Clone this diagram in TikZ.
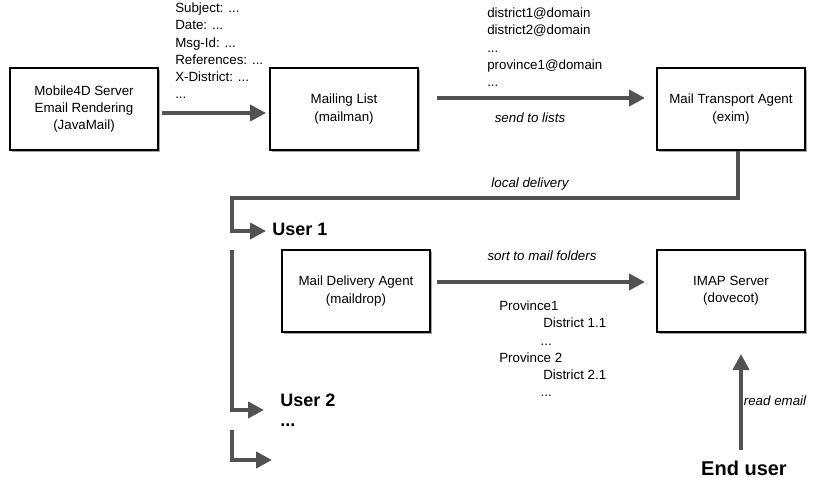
\documentclass[tikz,border=0pt]{standalone}
\usepackage{fontspec}
\setmainfont{Liberation Sans}
\usetikzlibrary{arrows.meta}
\begin{document}
\begin{tikzpicture}[x=0.75pt,y=-0.75pt,
  box/.style={draw=black,line width=0.8pt,fill=white,align=center,font=\fontsize{10}{13}\selectfont,minimum width=111pt,minimum height=61.5pt,inner sep=0pt},
  shadowbox/.style={box,preaction={fill=black!35,transform canvas={xshift=1.5pt,yshift=-1.5pt}}},
  flow/.style={draw=black!68,line width=3pt,-{Triangle[length=12pt,width=12pt]}},
  lab/.style={font=\fontsize{10}{12.8}\selectfont,align=left,anchor=west,inner sep=0pt},
  it/.style={font=\itshape\fontsize{10}{13}\selectfont,inner sep=0pt},
  big/.style={font=\bfseries\fontsize{13.5}{15}\selectfont,anchor=west,inner sep=0pt}]
\useasboundingbox (0,0) rectangle (822,478);
\node[shadowbox] (m4d) at (84,109) {Mobile4D Server\\Email Rendering\\(JavaMail)};
\node[shadowbox] (ml) at (344,109) {Mailing List\\(mailman)};
\node[shadowbox] (mta) at (731,109) {Mail Transport Agent\\(exim)};
\node[shadowbox] (mda) at (356,291) {Mail Delivery Agent\\(maildrop)};
\node[shadowbox] (imap) at (731,291) {IMAP Server\\(dovecot)};
\node[lab,anchor=north west] (hdr) at (175,3) {Subject: ...\\Date: ...\\Msg-Id: ...\\References: ...\\X-District: ...\\...};
\node[lab,anchor=north west] (dist) at (487,8) {district1@domain\\district2@domain\\...\\province1@domain\\...};
\node[lab,anchor=north west] (prov) at (499,301) {Province1\\\hspace*{33pt}District 1.1\\\hspace*{31pt}...\\Province 2\\\hspace*{33pt}District 2.1\\\hspace*{31pt}...};
\node[it] (l1) at (530,118) {send to lists};
\node[it] (l2) at (530,184) {local delivery};
\node[it] (l3) at (542,256) {sort to mail folders};
\node[it] (l4) at (775,401) {read email};
\node[big] (u1) at (272,229) {User 1};
\node[big] (u2) at (280,400) {User 2};
\node[big] (dots) at (280,425) {...};
\node[font=\bfseries\fontsize{15}{17}\selectfont,inner sep=0pt] (eu) at (744,468) {End user};
\coordinate (c1) at (738,198); \coordinate (c2) at (232,198); \coordinate (c3) at (232,231);
\coordinate (t1) at (266,231);
\coordinate (d1) at (232,250); \coordinate (d2) at (232,410); \coordinate (t2) at (264,410);
\coordinate (e1) at (232,430); \coordinate (e2) at (232,460); \coordinate (t3) at (272,460);
\coordinate (a1) at (162,113); \coordinate (a2) at (266,113);
\coordinate (b1) at (437,98); \coordinate (b2) at (645,98);
\coordinate (f1) at (437,282); \coordinate (f2) at (645,282);
\coordinate (g1) at (741,450); \coordinate (g2) at (741,354);
\draw[flow] (a1) -- (a2);
\draw[flow] (b1) -- (b2);
\draw[flow] (mta.south -| c1) -- (c1) -- (c2) -- (c3) -- (t1);
\draw[flow] (d1) -- (d2) -- (t2);
\draw[flow] (e1) -- (e2) -- (t3);
\draw[flow] (f1) -- (f2);
\draw[flow] (g1) -- (g2);
\end{tikzpicture}
\end{document}
